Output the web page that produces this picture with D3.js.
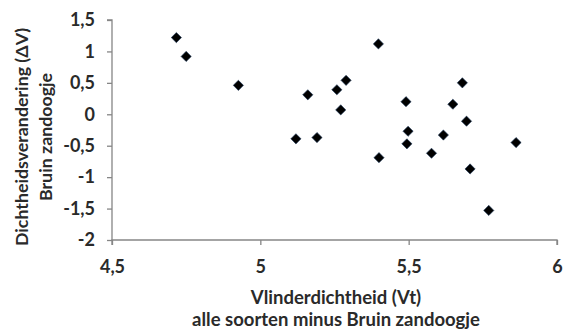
<!DOCTYPE html>
<html>
<head>
<meta charset="utf-8">
<script src="https://cdn.jsdelivr.net/npm/d3@7"></script>
<style>
  html, body { margin: 0; padding: 0; background: #fff; }
  svg text { font-family: Lato, "Open Sans", sans-serif; font-weight: bold; fill: #2a2a2a; }
</style>
</head>
<body>
<svg id="chart" width="567" height="329"></svg>
<script>
// Vlinderdichtheid (Vt) per plot
const vt = [4.717, 4.750, 4.926, 5.120, 5.160, 5.191, 5.258, 5.271, 5.289,
            5.398, 5.400, 5.491, 5.498, 5.494, 5.577, 5.617, 5.649, 5.681,
            5.695, 5.707, 5.770, 5.862];
// Dichtheidsverandering (ΔV) Bruin zandoogje
const dv = [1.22, 0.92, 0.46, -0.39, 0.31, -0.37, 0.39, 0.07, 0.54,
            1.12, -0.69, 0.20, -0.27, -0.47, -0.62, -0.33, 0.16, 0.50,
            -0.11, -0.87, -1.53, -0.45];
const xTicks = [4.5, 5, 5.5, 6];
const yTicks = [1.5, 1, 0.5, 0, -0.5, -1, -1.5, -2];
const xTitle = ["Vlinderdichtheid (Vt)", "alle soorten minus Bruin zandoogje"];
const yTitle = ["Dichtheidsverandering (ΔV)", "Bruin zandoogje"];

const svg = d3.select("#chart");
const fmt = v => String(v).replace(".", ",");

const x = d3.scaleLinear().domain([4.5, 6]).range([112, 557]);
const y = d3.scaleLinear().domain([-2, 1.5]).range([240, 20]);

const axisColor = "#868686";

// y axis
const gy = svg.append("g").attr("transform", `translate(${x(4.5)},0)`)
  .call(d3.axisLeft(y).tickValues(yTicks).tickSize(5).tickPadding(12).tickFormat(fmt));
// x axis
const gx = svg.append("g").attr("transform", `translate(0,${y(-2)})`)
  .call(d3.axisBottom(x).tickValues(xTicks).tickSize(5).tickPadding(15).tickFormat(fmt));

[gx, gy].forEach(g => {
  g.select(".domain").attr("stroke", axisColor).attr("stroke-width", 1.3);
  g.selectAll(".tick line").attr("stroke", axisColor).attr("stroke-width", 1.3);
  g.selectAll(".tick text").style("font-size", "18px").attr("fill", "#2a2a2a");
});
gx.select(".domain").attr("d", `M${x(4.5)},5V0H${x(6)}V5`);
gy.select(".domain").attr("d", `M-5,${y(1.5)}H0V${y(-2)}`);

// axis titles
svg.append("g").attr("transform", "translate(336,0)")
  .selectAll("text").data(xTitle).join("text")
  .attr("y", (d, i) => 304 + i * 22)
  .attr("text-anchor", "middle")
  .style("font-size", "18.5px")
  .text(d => d);

svg.append("g").attr("transform", "translate(0,137) rotate(-90)")
  .selectAll("text").data(yTitle).join("text")
  .attr("y", (d, i) => 28 + i * 24)
  .attr("text-anchor", "middle")
  .style("font-size", "17.8px")
  .text(d => d);

// data points as diamonds
const diamond = d3.symbol().type(d3.symbolSquare).size(52);
svg.append("g").selectAll("path").data(vt).join("path")
  .attr("d", diamond)
  .attr("transform", (d, i) => `translate(${x(d)},${y(dv[i])}) rotate(45)`)
  .attr("fill", "#000")
  .attr("stroke", "#1f3b5c")
  .attr("stroke-width", 0.6);
</script>
</body>
</html>
